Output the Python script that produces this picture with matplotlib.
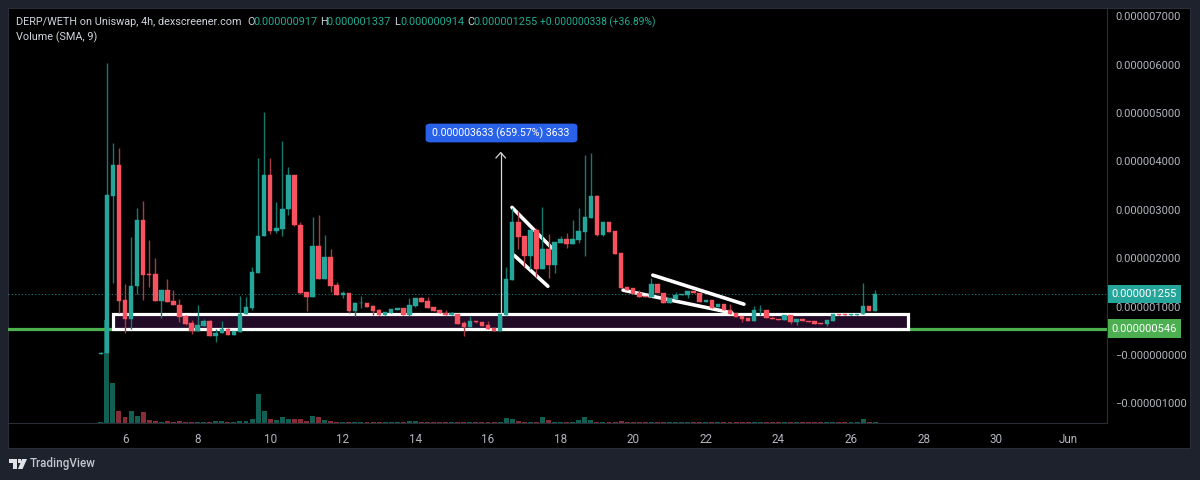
import numpy as np
import matplotlib
matplotlib.use('Agg')
import matplotlib.pyplot as plt
from matplotlib.patches import Rectangle, FancyBboxPatch, Polygon

plt.rcParams['font.family'] = ['Roboto', 'DejaVu Sans']

# Prices are in units of 0.000001 WETH, one candle every 4 hours
OPENS = [.03, .04, 3.29, 3.93, 1.14, .74, 1.43, 2.79, 1.68, 1.68,
         1.12, 1.34, 1.12, 1.03, .80, .66, .50, .60, .71, .39,
         .46, .53, .42, .48, .85, .97, 1.70, 2.46, 3.72, 2.57,
         2.60, 3.02, 3.72, 2.68, 1.30, 1.20, 2.25, 1.56, 2.02, 1.45,
         1.24, 1.28, .91, 1.07, 1.08, 1.01, .93, .83, .87, .94,
         .98, .82, 1.02, 1.18, 1.11, .99, .93, .86, .83, .85,
         .67, .58, .70, .69, .62, .56, .50, .83, 1.55, 2.75,
         2.45, 2.04, 2.58, 1.77, 2.19, 1.86, 2.32, 2.39, 2.29, 2.37,
         2.55, 2.84, 3.28, 2.47, 2.75, 2.56, 2.10, 1.40, 1.38, 1.29,
         1.22, 1.20, 1.47, 1.29, 1.08, 1.16, 1.24, 1.23, 1.32, 1.29,
         1.10, 1.13, 1.00, 1.05, .94, .87, .81, .76, .71, .92,
         .93, .77, .75, .73, .82, .68, .75, .71, .71, .66,
         .64, .71, .85, .84, .82, .83, .85, 1.01, .917]
CLOSES = [.05, 3.31, 3.93, 1.12, .74, 1.43, 2.79, 1.66, 1.66, 1.12,
          1.34, 1.10, 1.03, .79, .64, .50, .62, .71, .39, .46,
          .53, .42, .50, .85, 1.0, 1.72, 2.46, 3.72, 2.57, 2.63,
          3.02, 3.72, 2.68, 1.29, 1.19, 2.25, 1.56, 2.02, 1.43, 1.24,
          1.29, .91, 1.08, 1.08, .99, .91, .83, .89, .95, .98,
          .83, 1.03, 1.18, 1.10, .98, .91, .86, .83, .87, .65,
          .58, .70, .68, .60, .54, .50, .85, 1.56, 2.75, 2.43,
          2.04, 2.58, 1.77, 2.19, 1.86, 2.33, 2.39, 2.29, 2.39, 2.56,
          2.86, 3.28, 2.47, 2.75, 2.54, 2.08, 1.38, 1.34, 1.27, 1.20,
          1.19, 1.47, 1.29, 1.08, 1.17, 1.24, 1.27, 1.32, 1.29, 1.10,
          1.13, .98, 1.05, .93, .85, .79, .74, .71, .92, .93,
          .76, .74, .72, .82, .68, .75, .70, .68, .65, .64,
          .72, .85, .82, .82, .84, .85, 1.01, .90, 1.255]
HIGHS = [.07, 6.03, 4.38, 4.28, 1.47, 2.43, 3.04, 3.19, 2.38, 2.00,
         1.34, 1.57, 1.34, 1.16, .82, .72, 1.03, .74, .73, .54,
         .71, .55, .50, 1.21, 1.20, 1.82, 4.08, 5.02, 4.06, 3.17,
         4.43, 3.89, 3.72, 2.75, 1.30, 2.85, 2.90, 2.48, 2.19, 1.51,
         1.32, 1.28, 1.10, 1.21, 1.08, 1.03, .95, .89, .95, .98,
         .98, 1.17, 1.18, 1.19, 1.19, .99, .93, .92, .88, .85,
         .70, .81, .71, .69, .70, .56, .85, 1.82, 3.03, 2.98,
         2.45, 2.58, 2.62, 3.05, 2.50, 2.33, 2.46, 2.53, 2.79, 3.04,
         4.13, 4.18, 3.30, 2.75, 2.75, 2.56, 2.10, 1.40, 1.38, 1.34,
         1.22, 1.59, 1.47, 1.29, 1.17, 1.30, 1.27, 1.32, 1.32, 1.29,
         1.13, 1.13, 1.05, 1.05, 1.05, .87, .81, .76, 1.01, 1.03,
         .93, .80, .75, .82, .82, .75, .75, .71, .71, .66,
         .72, .85, .85, .84, .84, .85, 1.48, 1.01, 1.337]
LOWS = [.03, .04, 1.49, .87, .46, .54, 1.26, 1.14, 1.40, 1.12,
        .77, 1.10, 1.03, .69, .62, .43, .50, .60, .39, .27,
        .46, .42, .42, .48, .85, .93, 1.70, 2.46, 2.50, 2.53,
        2.46, 2.90, 2.66, 1.26, .91, 1.20, 1.56, 1.56, 1.30, 1.24,
        1.18, .87, .81, .97, .99, .83, .83, .83, .87, .92,
        .83, .80, 1.00, 1.10, .98, .91, .86, .83, .83, .65,
        .39, .58, .67, .60, .54, .50, .50, .83, 1.55, 2.20,
        1.81, 1.78, 1.62, 1.77, 1.60, 1.70, 2.32, 2.22, 2.29, 2.32,
        2.05, 2.84, 2.45, 2.45, 2.54, 2.08, 1.38, 1.34, 1.27, 1.20,
        1.19, 1.20, 1.29, 1.08, 1.08, 1.16, 1.24, 1.18, 1.29, 1.10,
        1.10, .98, 1.00, .93, .85, .79, .68, .71, .71, .83,
        .76, .74, .72, .73, .65, .63, .70, .68, .65, .64,
        .60, .71, .82, .82, .82, .83, .85, .90, .914]
VOLUMES = [1.5, 103, 40, 12.3, 6, 12.3, 6.7, 11.3, 3.3, 2.3,
           1.3, 2.3, 1.3, 2.3, 1.3, 1.5, 1.5, 1, 1.3, 1.7,
           1.7, 1, 1, 2.5, 1.7, 4.3, 29, 12.3, 4, 3.3,
           6, 4.3, 4.3, 4.3, 1.7, 7, 6, 3.3, 2.3, 1,
           1.3, 1, 1.5, 1.3, 1.3, 1.5, 1, 1, 1, 1,
           1, 1.7, 1.7, 1, 1, 1, 1, 1, 1, 1,
           1.5, 1, 1, 1, 1.5, 1, 1.5, 5, 4.3, 2.3,
           1.3, 1.3, 1.3, 6, 3.3, 1.3, .7, 1.3, 1.3, 3.3,
           6, 3.3, 1.3, 1.3, .7, 1.3, 2.3, 1, 1, 1,
           1, 1.3, 1, 1, 1, 1, 1, 1, 1, 1,
           1, 1, 1, 1, 1, 1, 1, 1, 1.3, 1.3,
           1, 1, 1, 1, 1.5, 1, 1, 1, 1, 1,
           1, 1, 1, 1, 1, 1, 4, .7, 1.3]

Y_TICKS = [-1, 0, 1, 2, 3, 4, 5, 6, 7]
Y_LABELS = ['\u22120.000001000', '\u22120.000000000', '0.000001000', '0.000002000', '0.000003000',
            '0.000004000', '0.000005000', '0.000006000', '0.000007000']
X_TICKS = [6, 8, 10, 12, 14, 16, 18, 20, 22, 24, 26, 28, 30, 32]
X_LABELS = ['6', '8', '10', '12', '14', '16', '18', '20', '22', '24', '26', '28', '30', 'Jun']

LAST_CLOSE = 1.255
SUPPORT = 0.546
BOX_LOW, BOX_HIGH = 0.53, 0.84
BOX_START, BOX_END = 5.68, 27.57
MEASURE_DAY, MEASURE_FROM, MEASURE_CHANGE = 16.35, 0.55, 3.633

# Trendlines drawn on the chart: (day, price) pairs
FLAG_LINES = [((16.66, 3.05), (17.76, 2.21)),
              ((16.72, 2.06), (17.65, 1.42)),
              ((20.54, 1.65), (23.05, 1.05)),
              ((19.72, 1.34), (22.72, 0.87))]

GREEN = '#26a69a'
RED = '#f7525f'
W, H = 1200, 480
AX_L, AX_R, AX_T, AX_B = 8, 1107, 8, 423


def px(x, y):
    return x / W, 1 - y / H


fig = plt.figure(figsize=(12, 4.8), dpi=100, facecolor='#1e222d')

# black chart area inside the grey frame
fig.patches.append(Rectangle(px(8, 448), 1182 / W, 440 / H, transform=fig.transFigure,
                             facecolor='black', edgecolor='#2a2e39', linewidth=0.8, zorder=-2))

vol_ax = fig.add_axes([AX_L / W, 1 - AX_B / H, (AX_R - AX_L) / W, (AX_B - AX_T) / H], zorder=0)
ax = fig.add_axes([AX_L / W, 1 - AX_B / H, (AX_R - AX_L) / W, (AX_B - AX_T) / H], zorder=1)
ax.patch.set_visible(False)
vol_ax.patch.set_visible(False)

opens = np.array(OPENS)
closes = np.array(CLOSES)
highs = np.array(HIGHS)
lows = np.array(LOWS)
days = 6 + (np.arange(len(opens)) - 4) / 6
up = closes >= opens
width = 0.125
x_limits = (6 + (AX_L - 125) / 36.3, 6 + (AX_R - 125) / 36.3)

# volume pane, sits at the bottom of the price pane
vol_ax.bar(days, VOLUMES, width=0.135, color=np.where(up, '#125f54', '#8a2c37'), linewidth=0)
vol_ax.set_xlim(x_limits)
vol_ax.set_ylim(0, AX_B - AX_T)
vol_ax.set_xticks([])
vol_ax.set_yticks([])
for s in vol_ax.spines.values():
    s.set_visible(False)

# levels and drawings under the candles
ax.axhline(LAST_CLOSE, color=GREEN, linestyle=(0, (1, 2)), linewidth=0.8, alpha=0.75, zorder=1)
ax.axhline(SUPPORT, color='#4caf50', linewidth=2.3, zorder=1)
ax.add_patch(Rectangle((BOX_START, BOX_LOW), BOX_END - BOX_START, BOX_HIGH - BOX_LOW,
                       facecolor='#210b27', edgecolor='white', linewidth=2.3, zorder=2))
for a, b in FLAG_LINES:
    ax.plot([a[0], b[0]], [a[1], b[1]], color='white', linewidth=2.6, solid_capstyle='round', zorder=2)

# measure arrow
m_top = MEASURE_FROM + MEASURE_CHANGE
ax.plot([MEASURE_DAY, MEASURE_DAY], [MEASURE_FROM, m_top], color='#d8d8d8', linewidth=0.9, zorder=2)
ax.plot([MEASURE_DAY - 0.13, MEASURE_DAY, MEASURE_DAY + 0.13], [m_top - 0.11, m_top, m_top - 0.11],
        color='#d8d8d8', linewidth=0.9, zorder=2)

# candles
for mask, body, wick in [(up, GREEN, '#17796e'), (~up, RED, '#a83a45')]:
    ax.vlines(days[mask], lows[mask], highs[mask], color=wick, linewidth=1.0, zorder=3)
    ax.bar(days[mask], np.abs(closes - opens)[mask], bottom=np.minimum(opens, closes)[mask], width=width,
           color=body, edgecolor=body, linewidth=0.3, zorder=4)

ax.set_xlim(x_limits)
ax.set_ylim((355 - AX_B) / 48.4, (355 - AX_T) / 48.4)
ax.yaxis.tick_right()
ax.set_yticks(Y_TICKS)
ax.set_yticklabels(Y_LABELS)
ax.set_xticks(X_TICKS)
ax.set_xticklabels(X_LABELS)
ax.tick_params(axis='y', length=0, pad=6, labelsize=8.0, labelcolor='#b2b5be')
ax.tick_params(axis='x', length=0, pad=7, labelsize=8.4, labelcolor='#b2b5be')
for side in ['top', 'left']:
    ax.spines[side].set_visible(False)
ax.spines['right'].set_color('#2a2e39')
ax.spines['bottom'].set_color('#2a2e39')

# price tags on the axis
for price, col, label in [(LAST_CLOSE, GREEN, '0.000001255'), (SUPPORT, '#4caf50', '0.000000546')]:
    ax.annotate(label, xy=(1, price), xycoords=('axes fraction', 'data'), xytext=(27, 0),
                textcoords='offset points', ha='center', va='center', fontsize=8.0, color='white',
                bbox=dict(boxstyle='square,pad=0.38', facecolor=col, edgecolor='none'),
                annotation_clip=False, zorder=10)

# measure label
fig.patches.append(FancyBboxPatch(px(427, 141), 149 / W, 16 / H, transform=fig.transFigure,
                                  boxstyle='round,pad=0,rounding_size=0.003', facecolor='#2962e8',
                                  edgecolor='#2962e8', linewidth=2))
fig.text(*px(501, 133), '0.000003633 (659.57%) 3633', color='white', fontsize=7.6,
         ha='center', va='center', zorder=10)

# header
GREY = '#d1d4dc'
VAL = '#22ab94'
fig.text(*px(16, 22), 'DERP/WETH on Uniswap, 4h, dexscreener.com', color=GREY, fontsize=7.8, va='center')
for x, letter, val in [(247, 'O', '0.000000917'), (320, 'H', '0.000001337'), (394, 'L', '0.000000914'),
                       (467, 'C', '0.000001255')]:
    fig.text(*px(x, 22), letter, color=GREY, fontsize=7.8, va='center')
    fig.text(*px(x + 6.5, 22), val, color=VAL, fontsize=7.8, va='center')
fig.text(*px(540, 22), '+0.000000338 (+36.89%)', color=VAL, fontsize=7.4, va='center')
fig.text(*px(16, 37), 'Volume (SMA, 9)', color=GREY, fontsize=7.8, va='center')

# TradingView logo
for shape in [[px(9, 459), px(17, 459), px(17, 469), px(13, 469), px(13, 463), px(9, 463)],
              [px(22, 459), px(27, 459), px(22.5, 469), px(18, 469)]]:
    fig.patches.append(Polygon(shape, closed=True, transform=fig.transFigure, facecolor='#e0e2e8'))
fig.patches.append(Rectangle(px(18, 463), 3 / W, 3.6 / H, transform=fig.transFigure, facecolor='#e0e2e8'))
fig.text(*px(30, 464), 'TradingView', color='#c3c6ce', fontsize=8.4, fontweight='medium', va='center')

plt.savefig('out.png', dpi=100, facecolor=fig.get_facecolor())
